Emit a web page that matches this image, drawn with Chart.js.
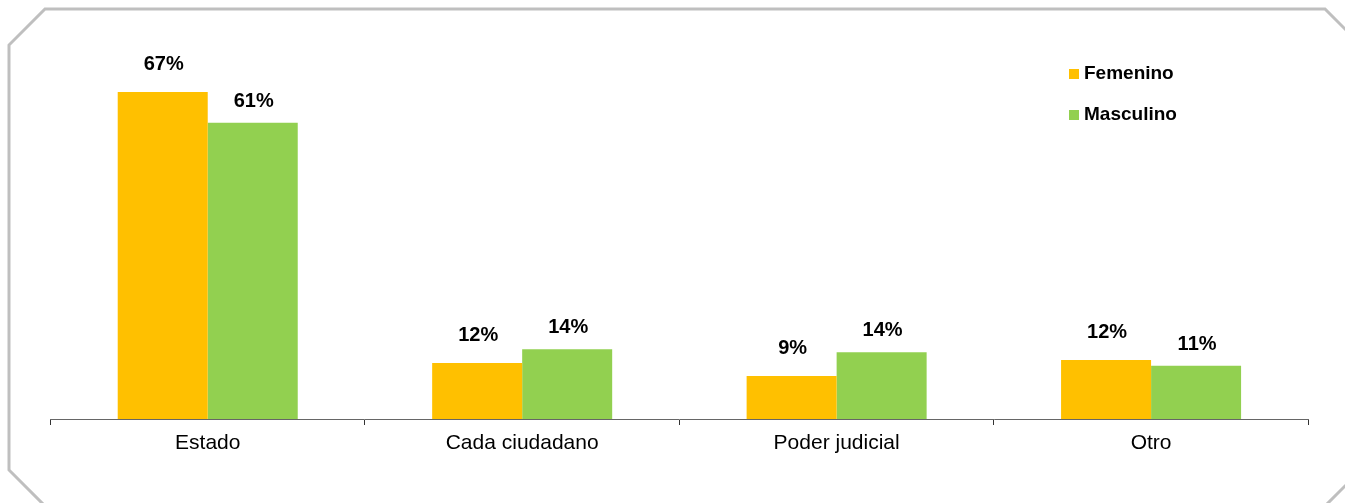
<!DOCTYPE html>
<html>
<head>
<meta charset="utf-8">
<title>Chart</title>
<script src="https://cdn.jsdelivr.net/npm/chart.js@4"></script>
<style>
  body { margin: 0; background: #fff; }
  #wrap { position: relative; width: 1345px; height: 503px; overflow: hidden; }
</style>
</head>
<body>
<div id="wrap"><canvas id="chart" width="1345" height="503"></canvas></div>
<script>
// Data (percent)
const categories = ['Estado', 'Cada ciudadano', 'Poder judicial', 'Otro'];
const seriesNames = ['Femenino', 'Masculino'];
const femenino = [67, 11.5, 8.8, 12.1];
const masculino = [60.7, 14.3, 13.7, 10.9];
const seriesColors = ['#FFC000', '#92D050'];

const ctx = document.getElementById('chart').getContext('2d');
const FONT = '"Liberation Sans", Arial, sans-serif';

// Octagonal frame around the chart
const framePlugin = {
    id: 'frame',
    beforeDraw(chart) {
        const c = chart.ctx;
        c.save();
        c.strokeStyle = '#BFBFBF';
        c.lineWidth = 3;
        c.beginPath();
        c.moveTo(45, 9);
        c.lineTo(1325, 9);
        c.lineTo(1361, 45);
        c.lineTo(1361, 470);
        c.lineTo(1325, 506);
        c.lineTo(45, 506);
        c.lineTo(9, 470);
        c.lineTo(9, 45);
        c.closePath();
        c.stroke();
        c.restore();
    }
};

// Value labels above each bar
const labelOffsets = [22, 16];
const valueLabels = {
    id: 'valueLabels',
    afterDatasetsDraw(chart) {
        const c = chart.ctx;
        c.save();
        c.font = 'bold 20px ' + FONT;
        c.fillStyle = '#000';
        c.textAlign = 'center';
        c.textBaseline = 'alphabetic';
        chart.data.datasets.forEach((ds, i) => {
            chart.getDatasetMeta(i).data.forEach((bar, j) => {
                c.fillText(Math.round(ds.data[j]) + '%', bar.x + 1, bar.y - labelOffsets[i]);
            });
        });
        c.restore();
    }
};

// Legend in the top right corner
const legendBox = {
    id: 'legendBox',
    afterDraw(chart) {
        const c = chart.ctx;
        c.save();
        c.font = 'bold 19px ' + FONT;
        c.textBaseline = 'middle';
        c.textAlign = 'left';
        chart.data.datasets.forEach((ds, i) => {
            const y = 74 + i * 41;
            c.fillStyle = ds.backgroundColor;
            c.fillRect(1069, y - 5, 10, 10);
            c.fillStyle = '#000';
            c.fillText(ds.label, 1084, y);
        });
        c.restore();
    }
};

const chart = new Chart(ctx, {
    type: 'bar',
    data: {
        labels: categories,
        datasets: [
            { label: seriesNames[0], data: femenino, backgroundColor: seriesColors[0] },
            { label: seriesNames[1], data: masculino, backgroundColor: seriesColors[1] }
        ]
    },
    options: {
        responsive: false,
        animation: false,
        layout: { padding: { top: 28.6, left: 50.5, right: 36.7, bottom: 40.8 } },
        datasets: { bar: { barPercentage: 1, categoryPercentage: 0.5725 } },
        plugins: { legend: { display: false }, tooltip: { enabled: false } },
        scales: {
            x: {
                grid: { offset: true, drawOnChartArea: false, tickLength: 6, color: '#333' },
                border: { color: '#666', width: 1 },
                ticks: { color: '#000', font: { family: FONT, size: 21 }, padding: 6 }
            },
            y: { display: false, min: 0, max: 80 }
        }
    },
    plugins: [framePlugin, valueLabels, legendBox]
});
</script>
</body>
</html>
